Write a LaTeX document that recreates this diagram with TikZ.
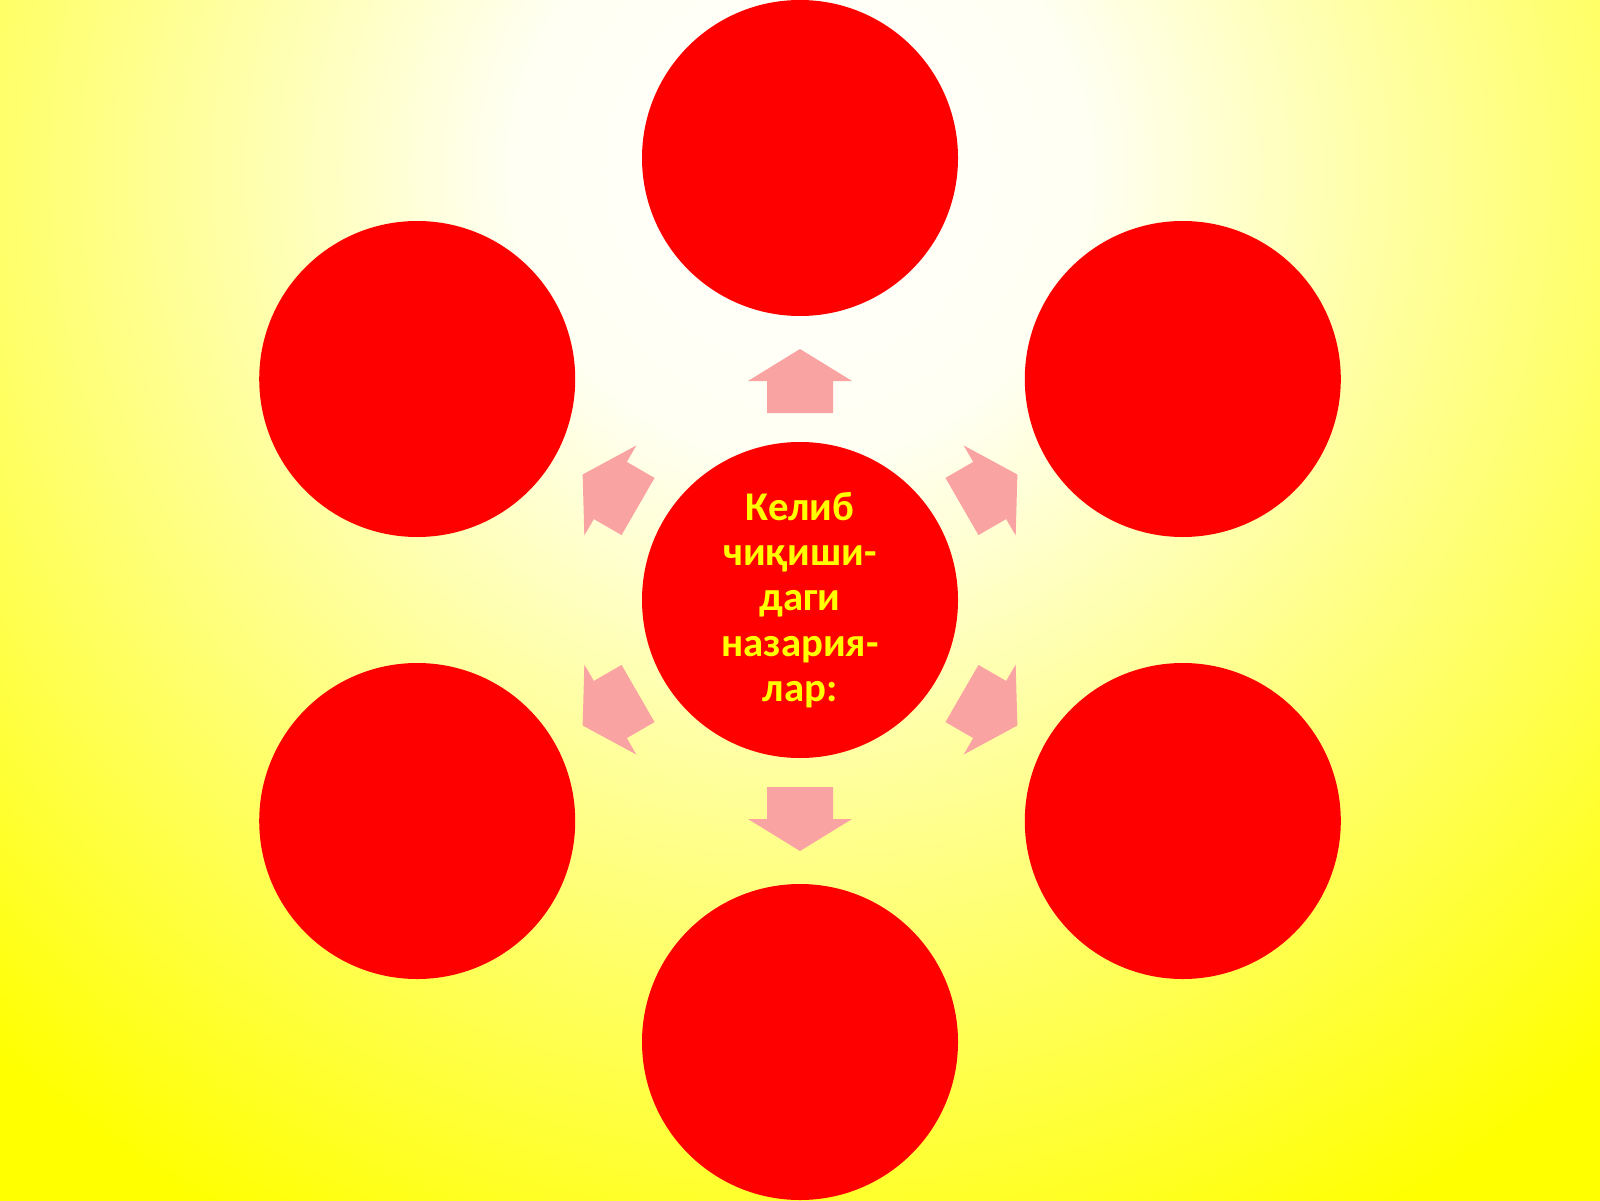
\documentclass[tikz,border=0pt]{standalone}
\usepackage{fontspec}
\setmainfont{Carlito}
\usetikzlibrary{calc}
\definecolor{ballred}{RGB}{255,0,0}
\definecolor{textyellow}{RGB}{255,255,0}
\definecolor{bgyellow}{RGB}{255,255,0}
\definecolor{arrowpink}{RGB}{249,163,163}
\pgfdeclareradialshading{backglow}{\pgfpoint{0bp}{0bp}}{color(0bp)=(white); color(5.2bp)=(white!95!bgyellow); color(12bp)=(bgyellow!45!white); color(21.4bp)=(bgyellow); color(50bp)=(bgyellow)}
\tikzset{
  ball/.style={circle, fill=ballred, minimum size=3.16cm, inner sep=0pt},
  hubtext/.style={text=textyellow, font=\fontsize{11.6}{12.9}\selectfont\bfseries, align=center},
  gaparrow/.style={fill=arrowpink}
}

\begin{document}
\begin{tikzpicture}
\useasboundingbox (0,0) rectangle (16,12);
\begin{scope}
\clip (0,0) rectangle (16,12);
\shade[shading=backglow] (8,10.3) circle (14);
\end{scope}
\node[ball, hubtext] (hub) at (8,6) {Келиб\\чиқиши-\\даги\\назария-\\лар:};
\foreach \a/\n in {90/top, 30/upright, -30/lowright, -90/bottom, -150/lowleft, 150/upleft}
  \node[ball] (\n) at ($(hub.center)+(\a:4.42)$) {};
\foreach \a in {90,30,-30,-90,-150,150}
{
  \begin{scope}[shift={(hub.center)}, rotate=\a]
  \fill[gaparrow] (1.87,-0.33) -- (2.19,-0.33) -- (2.19,-0.52) -- (2.51,0) -- (2.19,0.52) -- (2.19,0.33) -- (1.87,0.33) -- cycle;
  \end{scope}
}
\end{tikzpicture}
\end{document}
